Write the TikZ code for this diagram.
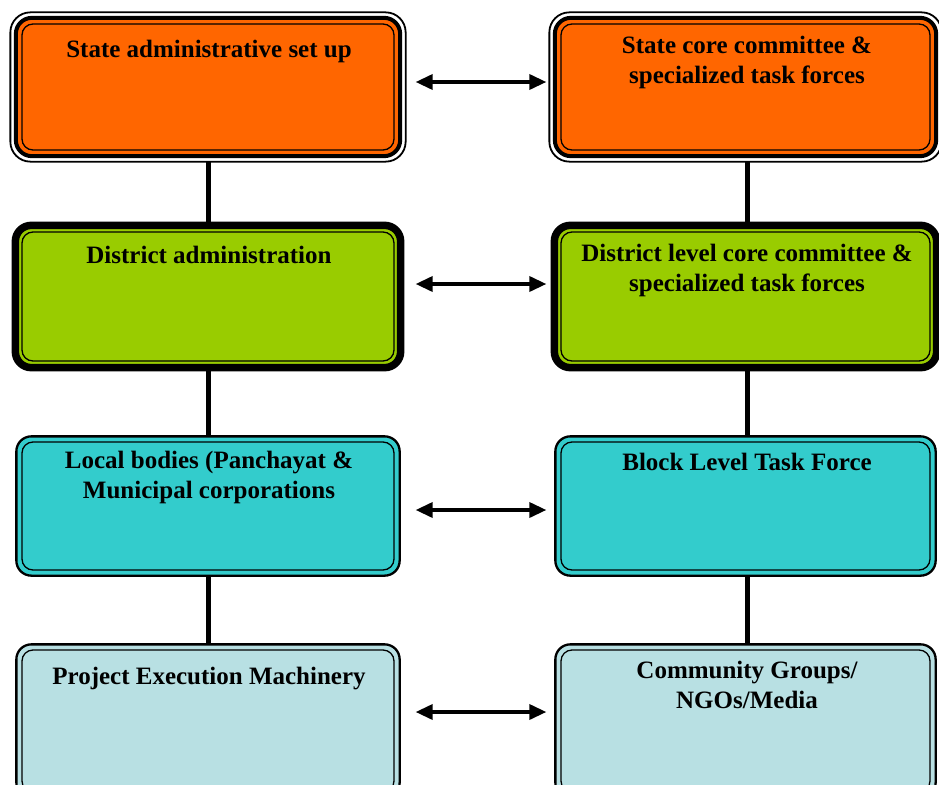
\documentclass[tikz,border=0pt]{standalone}
\usepackage{fontspec}
\setmainfont{Liberation Serif}
\usetikzlibrary{arrows.meta,backgrounds}
\definecolor{corange}{HTML}{FF6600}
\definecolor{cgreen}{HTML}{99CC00}
\definecolor{ccyan}{HTML}{33CCCC}
\definecolor{cpale}{HTML}{B8E0E3}
\newcommand{\framerowone}[2]{%
  \draw[line width=1.8pt, fill=white, rounded corners=20pt] ([shift={(-11pt,11pt)}]#1.north west) rectangle ([shift={(11pt,-11pt)}]#1.south east);
  \draw[line width=4pt, fill=#2, rounded corners=16pt] ([shift={(-5.5pt,5.5pt)}]#1.north west) rectangle ([shift={(5.5pt,-5.5pt)}]#1.south east);}
\newcommand{\framerowtwo}[2]{%
  \draw[line width=7.5pt, fill=#2, rounded corners=16pt] ([shift={(-6pt,6pt)}]#1.north west) rectangle ([shift={(6pt,-6pt)}]#1.south east);}
\newcommand{\framerowlow}[2]{%
  \draw[line width=2.3pt, fill=#2, rounded corners=15pt] ([shift={(-5pt,5pt)}]#1.north west) rectangle ([shift={(5pt,-5pt)}]#1.south east);}
\begin{document}
\begin{tikzpicture}[x=1pt,y=-1pt,
  box/.style={rectangle, rounded corners=11pt, fill=#1, draw=black, line width=1.3pt, inner sep=0pt},
  lbox/.style={box=#1, minimum width=372pt},
  rbox/.style={box=#1, minimum width=369pt},
  lbl/.style={anchor=north, align=center, inner sep=0pt, font=\fontsize{25}{30}\selectfont\bfseries},
  vline/.style={line width=5pt},
  harrow/.style={line width=3.5pt, {Triangle[length=17pt,width=15pt]}-{Triangle[length=17pt,width=15pt]}}]
\useasboundingbox (0,0) rectangle (939,784);
% boxes
\node[lbox=corange, minimum height=126pt] (L1) at (208,87) {};
\node[rbox=corange, minimum height=126pt] (R1) at (745.5,87) {};
\node[lbox=cgreen, minimum height=129pt] (L2) at (208,296.5) {};
\node[rbox=cgreen, minimum height=129pt] (R2) at (745.5,296.5) {};
\node[lbox=ccyan, minimum height=128pt] (L3) at (208,506) {};
\node[rbox=ccyan, minimum height=128pt] (R3) at (745.5,506) {};
\node[lbox=cpale, minimum height=142pt] (L4) at (208,721) {};
\node[rbox=cpale, minimum height=142pt] (R4) at (745.5,721) {};
% labels
\node[lbl] (tL1) at ([shift={(1pt,-17pt)}]L1.north) {State administrative set up};
\node[lbl] (tR1) at ([shift={(1.5pt,-13pt)}]R1.north) {State core committee \&\\specialized task forces};
\node[lbl] (tL2) at ([shift={(1pt,-15pt)}]L2.north) {District administration};
\node[lbl] (tR2) at ([shift={(1.5pt,-13pt)}]R2.north) {District level core committee \&\\specialized task forces};
\node[lbl] (tL3) at ([shift={(1pt,-10pt)}]L3.north) {Local bodies (Panchayat \&\\Municipal corporations};
\node[lbl] (tR3) at ([shift={(1.5pt,-12pt)}]R3.north) {Block Level Task Force};
\node[lbl] (tL4) at ([shift={(1pt,-18pt)}]L4.north) {Project Execution Machinery};
\node[lbl] (tR4) at ([shift={(1.5pt,-12pt)}]R4.north) {Community Groups/\\NGOs/Media};
% arrows
\draw[harrow] ([shift={(21pt,5pt)}]L1.east) -- ([shift={(-14pt,5pt)}]R1.west);
\draw[harrow] ([shift={(21pt,12.5pt)}]L2.east) -- ([shift={(-14pt,12.5pt)}]R2.west);
\draw[harrow] ([shift={(21pt,-4pt)}]L3.east) -- ([shift={(-14pt,-4pt)}]R3.west);
\draw[harrow] ([shift={(21pt,9pt)}]L4.east) -- ([shift={(-14pt,9pt)}]R4.west);
\begin{scope}[on background layer]
  \draw[vline] (L1.south) -- (L2.north);
  \draw[vline] (L2.south) -- (L3.north);
  \draw[vline] (L3.south) -- (L4.north);
  \draw[vline] ([xshift=2pt]R1.south) -- ([xshift=2pt]R2.north);
  \draw[vline] ([xshift=2pt]R2.south) -- ([xshift=2pt]R3.north);
  \draw[vline] ([xshift=2pt]R3.south) -- ([xshift=2pt]R4.north);
  \framerowone{L1}{corange}
  \framerowone{R1}{corange}
  \framerowtwo{L2}{cgreen}
  \framerowtwo{R2}{cgreen}
  \framerowlow{L3}{ccyan}
  \framerowlow{R3}{ccyan}
  \framerowlow{L4}{cpale}
  \framerowlow{R4}{cpale}
\end{scope}
\end{tikzpicture}
\end{document}
